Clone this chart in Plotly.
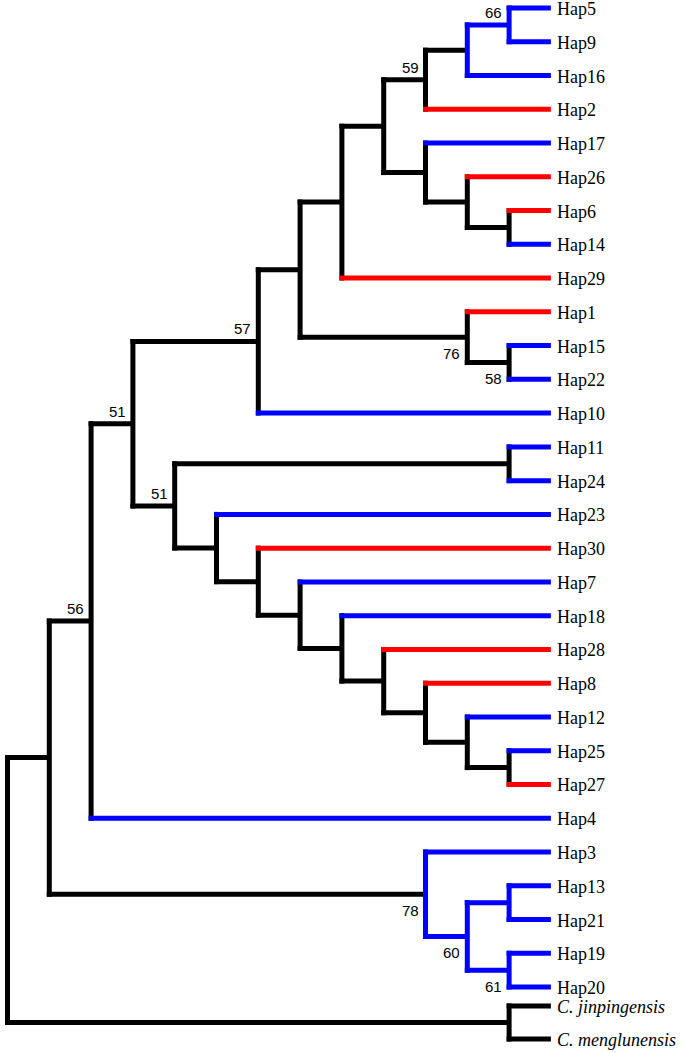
import plotly.graph_objects as go

# ---------------- data ----------------
leaf_names = ["Hap5", "Hap9", "Hap16", "Hap2", "Hap17", "Hap26", "Hap6", "Hap14",
              "Hap29", "Hap1", "Hap15", "Hap22", "Hap10", "Hap11", "Hap24", "Hap23",
              "Hap30", "Hap7", "Hap18", "Hap28", "Hap8", "Hap12", "Hap25", "Hap27",
              "Hap4", "Hap3", "Hap13", "Hap21", "Hap19", "Hap20",
              "C. jinpingensis", "C. menglunensis"]
leaf_colors = ["blue", "blue", "blue", "red", "blue", "red", "red", "blue",
               "red", "red", "blue", "blue", "blue", "blue", "blue", "blue",
               "red", "blue", "blue", "red", "red", "blue", "blue", "red",
               "blue", "blue", "blue", "blue", "blue", "blue",
               "black", "black"]
italic_leaves = ["C. jinpingensis", "C. menglunensis"]

node_ids = ["root", "A", "B", "D", "E", "G", "H", "J", "K", "M", "N", "L", "O", "P",
            "I", "Q", "F", "R", "S", "T", "U", "V", "W", "X", "Y", "Z",
            "C", "AA", "BB", "CC", "OG"]
node_children = [["A", "OG"], ["B", "C"], ["D", "Hap4"], ["E", "F"], ["G", "Hap10"],
                 ["H", "I"], ["J", "Hap29"], ["K", "L"], ["M", "Hap2"], ["N", "Hap16"],
                 ["Hap5", "Hap9"], ["Hap17", "O"], ["Hap26", "P"], ["Hap6", "Hap14"],
                 ["Hap1", "Q"], ["Hap15", "Hap22"], ["R", "S"], ["Hap11", "Hap24"],
                 ["Hap23", "T"], ["Hap30", "U"], ["Hap7", "V"], ["Hap18", "W"],
                 ["Hap28", "X"], ["Hap8", "Y"], ["Hap12", "Z"], ["Hap25", "Hap27"],
                 ["Hap3", "AA"], ["BB", "CC"], ["Hap13", "Hap21"], ["Hap19", "Hap20"],
                 ["C. jinpingensis", "C. menglunensis"]]

support_nodes = ["N", "K", "E", "D", "F", "B", "I", "Q", "C", "AA", "CC"]
support_values = [66, 59, 57, 51, 51, 56, 76, 58, 78, 60, 61]
support_side = ["above", "above", "above", "above", "above", "above",
                "below", "below", "below", "below", "below"]

blue_vertical_nodes = ["N", "M", "C", "AA", "BB", "CC"]
blue_stem_nodes = ["N", "AA", "BB", "CC"]

# ---------------- layout helpers ----------------
W, Hpx = 685, 1053
PX_X0, PX_DX = 7.5, 41.8     # pixel x of depth 0, pixels per depth step
PY0, PDY = 8.0, 33.76        # pixel y of first row, pixels per row
LW = 5
hx = (LW / 2) / PX_DX
hy = (LW / 2) / PDY

children = dict(zip(node_ids, node_children))
leaf_color = dict(zip(leaf_names, leaf_colors))

rows = {}
for i, n in enumerate(leaf_names):
    rows[n] = float(i)
# outgroup rows sit slightly closer to the ingroup in the original drawing
rows["C. jinpingensis"] = 29.56
rows["C. menglunensis"] = 30.54


def height(n):
    if n not in children:
        return 0
    return 1 + max(height(c) for c in children[n])


TOTAL = height("root")
xpos, ypos, parent = {}, {}, {}


def place(n):
    if n not in children:
        xpos[n] = TOTAL
        ypos[n] = rows[n]
        return
    for c in children[n]:
        parent[c] = n
        place(c)
    xpos[n] = TOTAL - height(n)
    ys = [ypos[c] for c in children[n]]
    ypos[n] = (ys[0] + ys[-1]) / 2


place("root")

COL = {"black": "#000000", "blue": "#0000FF", "red": "#FF0000"}

fig = go.Figure()


def add_segments(segs, color):
    xs, ys = [], []
    for (x0, y0, x1, y1) in segs:
        xs += [x0, x1, None]
        ys += [y0, y1, None]
    fig.add_trace(go.Scatter(x=xs, y=ys, mode="lines",
                             line=dict(color=COL[color], width=LW),
                             hoverinfo="skip", showlegend=False))


black_v, blue_v = [], []
for n in node_ids:
    ys = [ypos[c] for c in children[n]]
    seg = (xpos[n], min(ys) - hy, xpos[n], max(ys) + hy)
    (blue_v if n in blue_vertical_nodes else black_v).append(seg)
add_segments(black_v, "black")

hsegs = {"black": [], "blue": [], "red": []}
for n, p in parent.items():
    if n in leaf_color:
        c = leaf_color[n]
    elif n in blue_stem_nodes:
        c = "blue"
    else:
        c = "black"
    hsegs[c].append((xpos[p] - hx, ypos[n], xpos[n], ypos[n]))
for c in ["black", "red", "blue"]:
    add_segments(hsegs[c], c)

add_segments(blue_v, "blue")

SERIF = "Liberation Serif"
SANS = "Liberation Sans"

annotations = []
for n in leaf_names:
    txt = f"<i>{n}</i>" if n in italic_leaves else n
    annotations.append(dict(x=xpos[n], y=ypos[n], text=txt, showarrow=False,
                            xanchor="left", yanchor="middle", xshift=4, yshift=-1,
                            font=dict(family=SERIF, size=18, color="black")))

for n, v, side in zip(support_nodes, support_values, support_side):
    if side == "above":
        annotations.append(dict(x=xpos[n], y=ypos[n], text=str(v), showarrow=False,
                                xanchor="right", yanchor="bottom", xshift=-5, yshift=2,
                                font=dict(family=SANS, size=15, color="black")))
    else:
        annotations.append(dict(x=xpos[n], y=ypos[n], text=str(v), showarrow=False,
                                xanchor="right", yanchor="top", xshift=-5, yshift=-6,
                                font=dict(family=SANS, size=15, color="black")))

fig.update_layout(
    width=W, height=Hpx,
    margin=dict(l=0, r=0, t=0, b=0, pad=0, autoexpand=False),
    paper_bgcolor="white", plot_bgcolor="white",
    xaxis=dict(range=[-PX_X0 / PX_DX, (W - PX_X0) / PX_DX], visible=False,
               fixedrange=True),
    yaxis=dict(range=[(Hpx - PY0) / PDY, -PY0 / PDY], visible=False, fixedrange=True),
    annotations=annotations,
)

fig.write_html("out.html", config={"displayModeBar": False},
               post_script="document.body.style.margin='0';document.body.style.overflow='hidden';")
